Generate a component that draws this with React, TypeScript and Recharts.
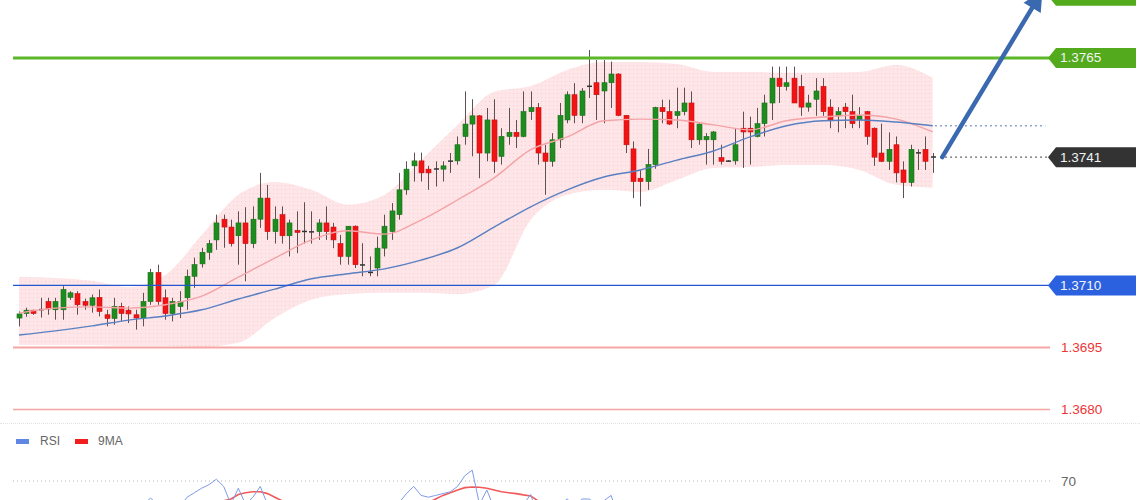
import React from "react";
import { Area, Bar, ComposedChart, Line, ReferenceLine, XAxis, YAxis } from "recharts";

// open, high, low, close for each session, left to right
type Candle = [number, number, number, number];

const ohlc: Candle[] = [
  [1.37021, 1.37037, 1.37001, 1.37031], [1.37032, 1.37046, 1.37024, 1.3704], [1.3704, 1.37041, 1.37029, 1.37032],
  [1.3704, 1.3707, 1.37022, 1.37042], [1.37061, 1.3707, 1.37029, 1.37043], [1.37041, 1.3707, 1.37017, 1.37061],
  [1.37041, 1.37098, 1.37017, 1.3709], [1.37071, 1.37086, 1.37065, 1.37082], [1.3708, 1.37086, 1.37029, 1.37053],
  [1.37061, 1.37068, 1.37041, 1.37052], [1.37052, 1.37078, 1.37034, 1.3707], [1.37071, 1.3709, 1.37025, 1.37037],
  [1.37029, 1.37041, 1.37001, 1.3702], [1.3702, 1.3707, 1.37005, 1.37049], [1.37049, 1.37058, 1.37013, 1.37032],
  [1.3704, 1.37049, 1.37009, 1.37031], [1.37029, 1.37041, 1.36993, 1.37021], [1.37021, 1.37082, 1.37001, 1.37061],
  [1.37061, 1.3714, 1.37053, 1.37131], [1.37131, 1.3715, 1.37053, 1.37061], [1.3707, 1.3709, 1.37017, 1.37032],
  [1.37032, 1.3707, 1.37013, 1.37061], [1.37049, 1.37086, 1.37021, 1.37061], [1.3707, 1.37138, 1.37041, 1.37122],
  [1.37122, 1.37167, 1.37094, 1.3715], [1.37152, 1.37191, 1.37143, 1.3718], [1.3718, 1.3721, 1.37162, 1.37201],
  [1.3721, 1.37271, 1.37186, 1.37251], [1.3726, 1.37271, 1.37191, 1.37241], [1.37241, 1.37259, 1.37194, 1.37201],
  [1.3722, 1.37279, 1.3715, 1.37251], [1.37251, 1.37289, 1.3711, 1.37201], [1.37201, 1.37291, 1.3719, 1.3726],
  [1.3726, 1.37372, 1.37239, 1.37311], [1.37311, 1.37343, 1.3721, 1.3723], [1.3723, 1.37291, 1.37201, 1.3726],
  [1.37271, 1.37291, 1.37201, 1.3722], [1.3722, 1.37259, 1.3717, 1.37251], [1.37233, 1.37279, 1.37178, 1.37228],
  [1.3723, 1.37301, 1.37201, 1.37231], [1.37229, 1.37279, 1.37201, 1.3723], [1.3723, 1.3726, 1.3721, 1.37251],
  [1.37251, 1.37291, 1.3721, 1.3723], [1.37241, 1.37251, 1.3719, 1.3721], [1.37201, 1.37222, 1.3715, 1.3717],
  [1.3717, 1.37243, 1.3715, 1.37243], [1.37243, 1.37245, 1.37142, 1.3715], [1.3715, 1.37202, 1.37122, 1.37149],
  [1.37131, 1.3717, 1.37122, 1.37132], [1.37142, 1.37218, 1.37122, 1.3719], [1.3719, 1.37271, 1.3717, 1.37243],
  [1.3723, 1.37299, 1.3721, 1.3728], [1.37271, 1.37372, 1.37259, 1.37331], [1.37331, 1.374, 1.37319, 1.37381],
  [1.37389, 1.37421, 1.37351, 1.37401], [1.37401, 1.37421, 1.37351, 1.37372], [1.37381, 1.37389, 1.37331, 1.37372],
  [1.37381, 1.374, 1.37339, 1.37382], [1.37381, 1.374, 1.37351, 1.37389], [1.374, 1.3742, 1.37372, 1.37401],
  [1.37401, 1.3746, 1.37392, 1.3744], [1.3746, 1.37569, 1.3744, 1.3749], [1.3749, 1.3755, 1.37412, 1.3751],
  [1.3751, 1.37512, 1.37359, 1.3742], [1.3742, 1.37529, 1.374, 1.375], [1.375, 1.3755, 1.37372, 1.374],
  [1.37412, 1.3748, 1.37392, 1.3746], [1.3746, 1.37529, 1.3744, 1.3747], [1.3747, 1.375, 1.37432, 1.3746],
  [1.3746, 1.37569, 1.37458, 1.3752], [1.3752, 1.37569, 1.375, 1.3753], [1.3753, 1.37541, 1.37392, 1.3742],
  [1.3742, 1.3744, 1.37319, 1.374], [1.374, 1.37468, 1.37387, 1.37452], [1.37452, 1.37541, 1.37432, 1.37511],
  [1.375, 1.37569, 1.37492, 1.37561], [1.37561, 1.37589, 1.37492, 1.37511], [1.37511, 1.37577, 1.37492, 1.3757],
  [1.3758, 1.37669, 1.37553, 1.37582], [1.3759, 1.37645, 1.375, 1.37561], [1.3757, 1.37645, 1.37492, 1.3759],
  [1.3759, 1.37641, 1.37529, 1.37611], [1.37611, 1.37613, 1.37509, 1.37511], [1.37511, 1.37512, 1.3742, 1.3744],
  [1.3743, 1.37448, 1.37311, 1.37351], [1.37359, 1.37379, 1.37291, 1.37351], [1.37351, 1.3743, 1.37331, 1.37392],
  [1.37392, 1.37532, 1.37382, 1.3753], [1.3753, 1.37549, 1.37492, 1.3752], [1.3752, 1.37549, 1.37488, 1.3749],
  [1.37511, 1.37578, 1.3748, 1.3752], [1.3752, 1.37578, 1.37511, 1.37541], [1.37541, 1.37569, 1.37432, 1.37452],
  [1.37452, 1.37492, 1.3744, 1.3749], [1.37452, 1.37468, 1.37392, 1.3746], [1.37452, 1.37473, 1.37392, 1.37471],
  [1.37409, 1.3744, 1.37392, 1.374], [1.37401, 1.37403, 1.37399, 1.37401], [1.37401, 1.3748, 1.37392, 1.3744],
  [1.3748, 1.3752, 1.37384, 1.37471], [1.3748, 1.37508, 1.37392, 1.37471], [1.3746, 1.37529, 1.37458, 1.37491],
  [1.37491, 1.37561, 1.3746, 1.37541], [1.37541, 1.37629, 1.375, 1.37601], [1.37601, 1.37629, 1.37541, 1.37581],
  [1.37581, 1.37629, 1.37571, 1.3759], [1.37601, 1.37629, 1.37541, 1.37541], [1.37581, 1.37609, 1.3751, 1.37531],
  [1.37531, 1.37561, 1.3752, 1.37541], [1.3755, 1.37601, 1.3751, 1.3757], [1.37581, 1.37601, 1.3751, 1.3752],
  [1.37531, 1.3755, 1.3748, 1.375], [1.3751, 1.37531, 1.3747, 1.3752], [1.37531, 1.37541, 1.3748, 1.3752],
  [1.3752, 1.37561, 1.3748, 1.37491], [1.375, 1.37531, 1.3748, 1.3751], [1.3752, 1.37522, 1.3744, 1.3746],
  [1.3748, 1.37482, 1.37389, 1.3741], [1.3742, 1.37491, 1.37398, 1.374], [1.374, 1.3747, 1.37379, 1.37429],
  [1.3744, 1.3746, 1.37349, 1.37372], [1.37379, 1.374, 1.37311, 1.37349], [1.37349, 1.3744, 1.37339, 1.37429],
  [1.3742, 1.37429, 1.37379, 1.37421], [1.37429, 1.3746, 1.37379, 1.374], [1.3741, 1.3742, 1.37372, 1.37411],
];

// bollinger band and moving averages, read every 5th candle
const IND_STEP = 5;
const bandUpper = [
  1.3712, 1.37118, 1.37111, 1.37096, 1.37125, 1.37222, 1.37319, 1.3735, 1.37331, 1.37295, 1.37319, 1.37403, 1.37488,
  1.37568, 1.37582, 1.37621, 1.3764, 1.3764, 1.37635, 1.37616, 1.37616, 1.37614, 1.37614, 1.37616, 1.37633, 1.37602,
];
const bandLower = [
  1.36956, 1.36956, 1.36956, 1.36954, 1.36954, 1.36951, 1.36961, 1.37021, 1.37065, 1.37079, 1.37082, 1.37082, 1.37079,
  1.37101, 1.37258, 1.37319, 1.37331, 1.37326, 1.37355, 1.37384, 1.37386, 1.37391, 1.37391, 1.37379, 1.37343, 1.37336,
];
const maFast = [
  1.37033, 1.37045, 1.37048, 1.37045, 1.37053, 1.37074, 1.3712, 1.37166, 1.3721, 1.37232, 1.37224, 1.37258, 1.37307,
  1.3736, 1.37428, 1.37459, 1.37498, 1.37502, 1.375, 1.37488, 1.37476, 1.37498, 1.37507, 1.37512, 1.37502, 1.37471,
];
const maSlow = [
  1.3698, 1.3699, 1.37002, 1.37016, 1.37026, 1.37041, 1.37067, 1.37091, 1.37116, 1.37128, 1.3714, 1.37161, 1.37191,
  1.37241, 1.3729, 1.37331, 1.37362, 1.37379, 1.37403, 1.37425, 1.37459, 1.37486, 1.37498, 1.375, 1.37495, 1.37486,
];

// RSI panel, one value per candle
const rsi = [
  52, 55, 53, 56, 54, 57, 58, 55, 53, 52, 54, 50, 48, 51, 49, 47, 46,
  57, 60.5, 57, 53, 55, 56, 61, 63.5, 66, 68, 71, 67, 57, 66, 57, 61, 67, 57,
  55, 52, 54, 52, 53, 52, 54, 53, 50, 46, 52, 44, 44, 42, 48, 53, 56,
  58, 63, 67, 62, 61, 62, 63, 64, 67, 73, 76, 57, 65, 55, 58, 58, 57, 57, 62.5, 50, 48,
  52, 57, 60, 56, 60, 60, 57, 59, 62, 50,
  45, 38, 38, 43, 55, 54, 51, 52, 54, 46, 49, 49, 50, 45, 45, 49, 52, 52, 54, 57, 57, 56, 57, 53, 50,
  51, 54, 50, 48, 49, 49, 47, 48, 44, 40, 39, 42, 37, 35, 42, 42, 40, 41,
];
const rsiMa = [
  50, 51, 52, 53, 53, 54, 54, 54, 54, 53, 53, 52, 52, 51, 51, 51, 51, 51, 52, 52, 53, 53, 54, 55, 56, 57, 57, 58,
  59, 60, 62.5, 63.5, 64, 64, 63, 61, 59, 57,
  55, 54, 53, 53, 53, 52, 51, 50, 49, 48, 48, 48, 49, 51, 53, 55, 56, 57, 58,
  60, 62, 63.5, 65, 66.3, 66.7, 66.5, 66, 65, 64, 63.5, 63, 62.3, 61.7, 59, 57,
  56, 56, 56, 57, 57, 57, 57, 58, 58, 57, 55, 53, 51, 50, 49, 49, 48, 48, 48, 48, 49, 50, 50, 50, 49, 49, 49, 49,
  50, 51, 52, 53, 54, 54, 54, 54, 54, 53, 52, 51, 50, 50, 49, 48, 47, 46, 45, 44, 43, 42, 41, 41, 41,
];

const RSI_LEVEL = 70;
const LEVEL_UP2 = 1.378;
const LEVEL_UP1 = 1.3765;
const LEVEL_LAST = 1.3741;
const LEVEL_DN1 = 1.371;
const LEVEL_DN2 = 1.3695;
const LEVEL_DN3 = 1.368;
const ARROW_FROM = { x: 126.3, y: 1.3741 };
const ARROW_TO = { x: 138.6, y: 1.37771 };

const X_DOMAIN: [number, number] = [-0.82, 141.04];
const PRICE_DOMAIN: [number, number] = [1.367745, 1.3779];
const RSI_DOMAIN: [number, number] = [20, 90];

const candleData = ohlc.map(([o, h, l, c], i) => ({ i, o, h, l, c, range: [l, h] }));
const indicatorData = bandUpper.map((u, k) => ({
  i: k * IND_STEP,
  band: [bandLower[k], u],
  fast: maFast[k],
  slow: maSlow[k],
}));
const rsiData = rsi.map((v, i) => ({ i, rsi: v, ma: rsiMa[i] }));
const lastSlow = maSlow[maSlow.length - 1];

const FONT = '"Liberation Sans", Arial, sans-serif';

function CandleShape(props: any) {
  const { x, y, width, height, payload } = props;
  if (x == null || payload == null) return null;
  const { o, h, l, c } = payload;
  const top = Math.min(y, y + height);
  const bot = Math.max(y, y + height);
  const k = (bot - top) / (h - l || 1e-9);
  const yOf = (v: number) => top + (h - v) * k;
  const cx = Math.round(x + width / 2) + 0.5;
  const yO = yOf(o);
  const yC = yOf(c);
  const bTop = Math.min(yO, yC);
  const bH = Math.abs(yO - yC);
  const up = c >= o;
  return (
    <g>
      <line x1={cx} x2={cx} y1={top} y2={bot} stroke="#5e5050" strokeWidth={1} />
      {bH < 1.3 ? (
        <rect x={cx - 2.5} y={bTop - 0.5} width={5} height={1.5} fill="#333" />
      ) : (
        <rect
          x={cx - 2.5}
          y={bTop}
          width={5}
          height={bH}
          fill={up ? "#1f8c1f" : "#f21414"}
          stroke={up ? "#167016" : "#c41010"}
          strokeWidth={0.6}
        />
      )}
    </g>
  );
}

function PriceTag({ viewBox, text, fill }: any) {
  if (!viewBox) return null;
  const x0 = viewBox.x + viewBox.width - 2;
  const cy = viewBox.y;
  const d = `M${x0},${cy} L${x0 + 8},${cy - 10} L${x0 + 88},${cy - 10} L${x0 + 88},${cy + 10} L${x0 + 8},${cy + 10} Z`;
  return (
    <g>
      <path d={d} fill={fill} />
      {text ? (
        <text x={x0 + 12} y={cy} dominantBaseline="central" fontSize={13.5} fill="#f4f4f4" fontFamily={FONT}>
          {text}
        </text>
      ) : null}
    </g>
  );
}

function PlainTag({ viewBox, text, color }: any) {
  if (!viewBox) return null;
  return (
    <text
      x={viewBox.x + viewBox.width + 11}
      y={viewBox.y}
      dominantBaseline="central"
      fontSize={13.5}
      fill={color}
      fontFamily={FONT}
    >
      {text}
    </text>
  );
}

const tag = (text: string, fill: string) => (p: any) => <PriceTag viewBox={p.viewBox} text={text} fill={fill} />;
const plain = (text: string, color: string) => (p: any) => <PlainTag viewBox={p.viewBox} text={text} color={color} />;

function ArrowShape(props: any) {
  const { x1, y1, x2, y2 } = props;
  if (x1 == null) return null;
  const dx = x2 - x1;
  const dy = y2 - y1;
  const len = Math.hypot(dx, dy) || 1;
  const ux = dx / len;
  const uy = dy / len;
  const head = 20;
  const half = 10;
  const tipX = x2 + ux * head;
  const tipY = y2 + uy * head;
  const px = -uy;
  const py = ux;
  return (
    <g>
      <line x1={x1} y1={y1} x2={x2} y2={y2} stroke="#3a69b0" strokeWidth={4.5} strokeLinecap="round" />
      <polygon
        points={`${tipX},${tipY} ${x2 + px * half},${y2 + py * half} ${x2 - px * half},${y2 - py * half}`}
        fill="#3a69b0"
      />
    </g>
  );
}

export default function App() {
  return (
    <div
      style={{
        position: "fixed",
        left: 0,
        top: 0,
        width: 1140,
        height: 500,
        overflow: "hidden",
        background: "#fff",
        fontFamily: FONT,
      }}
    >
      <div style={{ position: "absolute", left: 0, top: 0 }}>
        <ComposedChart width={1140} height={423} data={candleData} margin={{ top: 0, right: 90, bottom: 3, left: 13 }}>
          <defs>
            <pattern id="bbDots" width="4" height="4" patternUnits="userSpaceOnUse">
              <rect width="4" height="4" fill="#fde5e8" />
              <rect x="1" y="1" width="1" height="1" fill="#f8cdd1" />
            </pattern>
          </defs>
          <XAxis dataKey="i" type="number" domain={X_DOMAIN} allowDataOverflow hide />
          <YAxis type="number" domain={PRICE_DOMAIN} allowDataOverflow hide />
          <Area
            data={indicatorData}
            dataKey="band"
            type="monotone"
            stroke="none"
            fill="url(#bbDots)"
            fillOpacity={1}
            isAnimationActive={false}
          />
          <Line
            data={indicatorData}
            dataKey="fast"
            type="monotone"
            stroke="#f4a3a7"
            strokeWidth={1.4}
            dot={false}
            isAnimationActive={false}
          />
          <Line
            data={indicatorData}
            dataKey="slow"
            type="monotone"
            stroke="#5b80c2"
            strokeWidth={1.4}
            dot={false}
            isAnimationActive={false}
          />
          <Bar dataKey="range" barSize={5} shape={<CandleShape />} isAnimationActive={false} />
          {/* next level up, its tag is cut by the top edge */}
          <ReferenceLine y={LEVEL_UP2} stroke="none" ifOverflow="visible" label={tag("", "#52aa1c")} />
          <ReferenceLine y={LEVEL_UP1} stroke="#5cb82a" strokeWidth={3} label={tag("1.3765", "#52aa1c")} />
          <ReferenceLine y={LEVEL_DN1} stroke="#2456d0" strokeWidth={1.2} label={tag("1.3710", "#2b61df")} />
          <ReferenceLine y={LEVEL_DN2} stroke="#f6a5a5" strokeWidth={2} label={plain("1.3695", "#ee3535")} />
          <ReferenceLine y={LEVEL_DN3} stroke="#f6a5a5" strokeWidth={1.5} label={plain("1.3680", "#ee3535")} />
          <ReferenceLine
            segment={[
              { x: 125.3, y: lastSlow },
              { x: 140.4, y: lastSlow },
            ]}
            stroke="#8ea4cf"
            strokeWidth={1.3}
            strokeDasharray="2 3"
          />
          <ReferenceLine
            segment={[
              { x: 126, y: LEVEL_LAST },
              { x: X_DOMAIN[1], y: LEVEL_LAST },
            ]}
            stroke="#666"
            strokeWidth={1.3}
            strokeDasharray="2 3"
            label={tag("1.3741", "#333333")}
          />
          <ReferenceLine segment={[ARROW_FROM, ARROW_TO]} ifOverflow="visible" shape={ArrowShape} />
        </ComposedChart>
      </div>

      <div
        style={{
          position: "absolute",
          left: 0,
          top: 423,
          width: 1140,
          borderTop: "1px dotted #e2e2e2",
        }}
      />
      <div
        style={{
          position: "absolute",
          left: 16,
          top: 434,
          fontSize: 12,
          color: "#666",
          display: "flex",
          alignItems: "center",
        }}
      >
        <span style={{ width: 13, height: 5, background: "#5f87e3", display: "inline-block", marginRight: 11 }} />
        <span style={{ marginRight: 15 }}>RSI</span>
        <span style={{ width: 13, height: 5, background: "#f01e1e", display: "inline-block", marginRight: 10 }} />
        <span>9MA</span>
      </div>

      <div style={{ position: "absolute", left: 0, top: 423 }}>
        <ComposedChart width={1140} height={153} data={rsiData} margin={{ top: 22, right: 90, bottom: 5, left: 13 }}>
          <XAxis dataKey="i" type="number" domain={X_DOMAIN} allowDataOverflow hide />
          <YAxis type="number" domain={RSI_DOMAIN} allowDataOverflow hide />
          <ReferenceLine
            y={RSI_LEVEL}
            stroke="#b5b5b5"
            strokeDasharray="1 3"
            label={plain("70", "#666")}
          />
          <Line dataKey="ma" type="linear" stroke="#f25a5a" strokeWidth={1.6} dot={false} isAnimationActive={false} />
          <Line dataKey="rsi" type="linear" stroke="#7f9be6" strokeWidth={1} dot={false} isAnimationActive={false} />
        </ComposedChart>
      </div>
    </div>
  );
}
